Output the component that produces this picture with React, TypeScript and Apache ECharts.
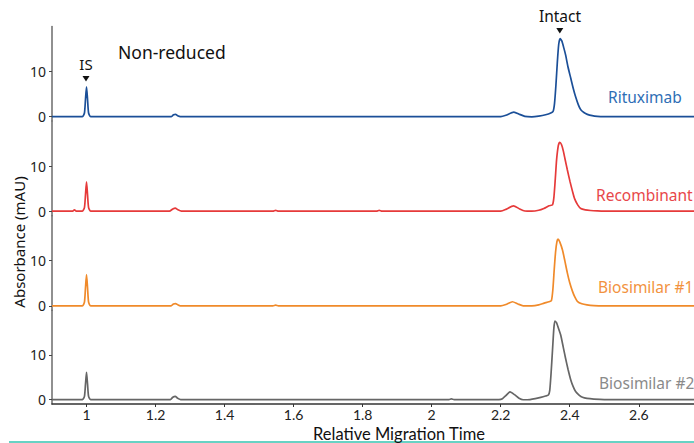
import React, { useEffect, useRef } from "react";
import * as echarts from "echarts";

const seriesNames = ["Rituximab", "Recombinant", "Biosimilar #1", "Biosimilar #2"];
const lineColors = ["#1b4f98", "#e63a3a", "#f08a2a", "#666666"];
const labelColors = ["#2e6eb5", "#e8474a", "#f29240", "#8a8a8a"];

const xTicks = [1, 1.2, 1.4, 1.6, 1.8, 2, 2.2, 2.4, 2.6];
const yTicks = [0, 10];

const rituximab: number[][] = [
  [0.9, 0], [0.988, 0], [0.994, 0.8], [0.997, 3.8], [1.0, 6.6], [1.003, 3.8], [1.006, 0.8], [1.012, 0],
  [1.245, 0], [1.252, 0.4], [1.258, 0.5], [1.264, 0.2], [1.272, 0],
  [2.2, 0], [2.215, 0.3], [2.238, 1.0], [2.255, 0.5], [2.27, 0.05], [2.29, -0.05], [2.31, 0.1], [2.33, 0.4],
  [2.345, 0.8], [2.352, 1.2], [2.356, 3], [2.36, 7], [2.364, 12], [2.368, 16], [2.372, 17.3], [2.377, 16.8],
  [2.383, 15.2], [2.388, 13.7], [2.395, 11], [2.403, 8.5], [2.41, 6.3], [2.417, 4.4], [2.425, 2.6],
  [2.432, 1.5], [2.441, 0.9], [2.451, 0.5], [2.465, 0.2], [2.48, 0.05], [2.5, 0], [2.76, 0],
];

const recombinant: number[][] = [
  [0.9, 0], [0.96, 0], [0.965, 0.3], [0.97, 0], [0.988, 0], [0.994, 0.8], [0.997, 3.6], [1.0, 6.5],
  [1.003, 3.6], [1.006, 0.8], [1.012, 0],
  [1.24, 0], [1.25, 0.5], [1.257, 0.7], [1.265, 0.3], [1.275, 0],
  [1.54, 0], [1.548, 0.2], [1.556, 0],
  [1.84, 0], [1.848, 0.2], [1.856, 0],
  [2.2, 0], [2.215, 0.4], [2.237, 1.2], [2.255, 0.5], [2.27, 0.05], [2.29, 0], [2.31, 0.2], [2.325, 0.6],
  [2.34, 1.2], [2.35, 1.4], [2.354, 3], [2.358, 7], [2.362, 11.5], [2.367, 14.6], [2.371, 15.3],
  [2.376, 14.8], [2.381, 13.5], [2.386, 11.7], [2.393, 9.2], [2.401, 6.5], [2.408, 4.4], [2.414, 2.8],
  [2.423, 1.4], [2.432, 0.6], [2.445, 0.3], [2.46, 0.15], [2.48, 0.05], [2.5, 0], [2.76, 0],
];

const biosimilar1: number[][] = [
  [0.9, 0], [0.988, 0], [0.994, 0.8], [0.997, 4], [1.0, 6.9], [1.003, 4], [1.006, 0.8], [1.012, 0],
  [1.245, 0], [1.252, 0.4], [1.258, 0.5], [1.265, 0.2], [1.272, 0],
  [1.54, 0], [1.548, 0.15], [1.556, 0],
  [2.2, 0], [2.215, 0.3], [2.234, 0.9], [2.25, 0.4], [2.265, 0], [2.29, 0], [2.31, 0.2], [2.326, 0.6],
  [2.34, 0.9], [2.347, 1.2], [2.351, 3.5], [2.355, 8], [2.359, 12], [2.363, 14.3], [2.366, 14.8],
  [2.371, 14.2], [2.379, 12.4], [2.386, 9.9], [2.393, 7.3], [2.4, 5.1], [2.408, 3.2], [2.415, 1.9],
  [2.422, 1.0], [2.435, 0.45], [2.45, 0.2], [2.47, 0.05], [2.5, 0], [2.76, 0],
];

const biosimilar2: number[][] = [
  [0.9, 0], [0.988, 0], [0.994, 0.7], [0.997, 3.4], [1.0, 6.1], [1.003, 3.4], [1.006, 0.7], [1.012, 0],
  [1.243, 0], [1.25, 0.5], [1.257, 0.7], [1.264, 0.3], [1.273, 0],
  [2.05, 0], [2.057, 0.15], [2.065, 0],
  [2.195, 0], [2.205, 0.2], [2.215, 0.9], [2.227, 1.7], [2.24, 1.1], [2.253, 0.3], [2.265, -0.05],
  [2.285, 0], [2.3, 0.2], [2.316, 0.5], [2.33, 0.8], [2.338, 1.0], [2.342, 2], [2.346, 6], [2.35, 11],
  [2.354, 16], [2.357, 17.6], [2.362, 17.2], [2.368, 15.8], [2.374, 14.4], [2.381, 11.8], [2.388, 9.2],
  [2.395, 6.8], [2.403, 4.4], [2.41, 2.9], [2.417, 1.8], [2.427, 1.0], [2.437, 0.5], [2.45, 0.25],
  [2.47, 0.1], [2.5, 0], [2.76, 0],
];

const allData = [rituximab, recombinant, biosimilar1, biosimilar2];

const FONT = "'Noto Sans'";
const FONT2 = "Lato";

export default function App() {
  const ref = useRef<HTMLDivElement>(null);
  useEffect(() => {
    if (!ref.current) return;
    const chart = echarts.init(ref.current, undefined, { renderer: "svg" });
    const panelTop = 26.5;
    const panelH = 94.6;
    const grids = allData.map((_, i) => ({
      left: 52,
      right: 0,
      top: panelTop + i * panelH,
      height: panelH,
    }));
    const xAxes = allData.map((_, i) => {
      const last = i === allData.length - 1;
      return {
        type: "value",
        gridIndex: i,
        min: 0.9,
        max: 2.76,
        show: last,
        splitLine: { show: false },
        axisLine: { show: last, onZero: false, lineStyle: { color: "#333", width: 1.5 } },
        axisTick: { show: last, length: 3, customValues: xTicks, lineStyle: { color: "#333" } },
        axisLabel: {
          show: last,
          customValues: xTicks,
          fontSize: 14,
          color: "#222",
          fontFamily: FONT2,
          margin: 3,
        },
        name: last ? "Relative Migration Time" : "",
        nameLocation: "middle",
        nameGap: 21,
        nameTextStyle: {
          fontSize: 16.5,
          color: "#111",
          fontFamily: FONT2,
          padding: [0, 0, 0, 52],
        },
      };
    });
    const yAxes = allData.map((_, i) => ({
      type: "value",
      gridIndex: i,
      min: -1,
      max: 20,
      splitLine: { show: false },
      axisLine: { show: true, lineStyle: { color: "#6b6b6b", width: 1.5 } },
      axisTick: { show: true, length: 3, customValues: yTicks, lineStyle: { color: "#444" } },
      axisLabel: {
        customValues: yTicks,
        fontSize: 14,
        color: "#222",
        fontFamily: FONT,
        margin: 6,
      },
    }));
    const series = allData.map((d, i) => ({
      type: "line",
      name: seriesNames[i],
      xAxisIndex: i,
      yAxisIndex: i,
      data: d,
      showSymbol: false,
      smooth: 0.2,
      lineStyle: { color: lineColors[i], width: 1.7 },
      z: 3,
    }));
    const labelPos = [
      { x: 608, y: 97 },
      { x: 596, y: 195 },
      { x: 598, y: 287 },
      { x: 599, y: 383 },
    ];
    const graphic: any[] = [
      ...seriesNames.map((n, i) => ({
        type: "text",
        x: labelPos[i].x,
        y: labelPos[i].y,
        style: {
          text: n,
          fill: labelColors[i],
          font: `15.5px ${FONT}`,
          verticalAlign: "middle",
        },
      })),
      {
        type: "text",
        x: 118,
        y: 52,
        style: { text: "Non-reduced", fill: "#111", font: `17.5px ${FONT}`, verticalAlign: "middle" },
      },
      {
        type: "text",
        x: 86,
        y: 64,
        style: { text: "IS", fill: "#111", font: `15px ${FONT}`, align: "center", verticalAlign: "middle" },
      },
      {
        type: "polygon",
        shape: { points: [[82.5, 76], [89.5, 76], [86, 81.5]] },
        style: { fill: "#111" },
      },
      {
        type: "text",
        x: 560,
        y: 16,
        style: { text: "Intact", fill: "#111", font: `15.5px ${FONT}`, align: "center", verticalAlign: "middle" },
      },
      {
        type: "polygon",
        shape: { points: [[556.3, 28], [563.3, 28], [559.8, 33.5]] },
        style: { fill: "#111" },
      },
      {
        type: "text",
        x: 19,
        y: 242,
        rotation: Math.PI / 2,
        style: {
          text: "Absorbance (mAU)",
          fill: "#111",
          font: `15px ${FONT}`,
          align: "center",
          verticalAlign: "middle",
        },
      },
      {
        type: "line",
        shape: { x1: 9, y1: 442, x2: 694, y2: 442 },
        style: { stroke: "#35c3b0", lineWidth: 1.5 },
      },
    ];
    chart.setOption({
      animation: false,
      grid: grids,
      xAxis: xAxes,
      yAxis: yAxes,
      series,
      graphic,
    });
    return () => chart.dispose();
  }, []);
  return (
    <div
      ref={ref}
      style={{ position: "fixed", left: 0, top: 0, width: 694, height: 443, background: "#fff" }}
    />
  );
}
